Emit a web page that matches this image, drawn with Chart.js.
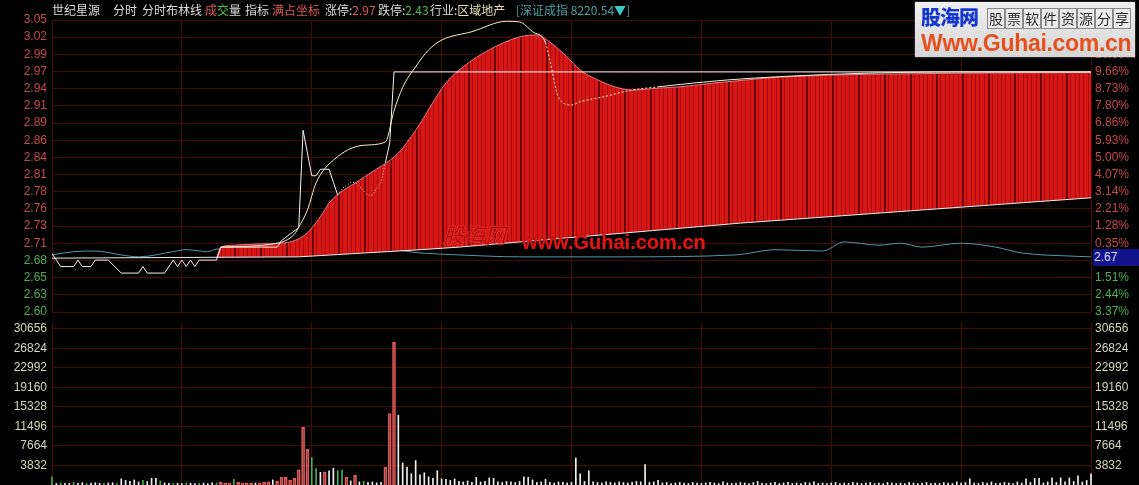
<!DOCTYPE html>
<html lang="zh">
<head>
<meta charset="UTF-8" />
<title>世纪星源 分时布林线</title>
<script src="https://cdn.jsdelivr.net/npm/chart.js"></script>
<style>
  html, body { margin: 0; padding: 0; background: #000; }
  body { width: 1139px; height: 485px; position: relative; overflow: hidden;
         font-family: "Noto Sans CJK SC", sans-serif; }
  canvas { position: absolute; left: 0; }
  #priceChart { top: 0; }
  #volChart { top: 318px; }
  .hd { position: absolute; top: 3px; font-size: 12px; line-height: 14px; color: #dcdcdc; white-space: nowrap; }
  .up { color: #e05858; }
  .dn { color: #4cbf4c; }
  .ind { color: #e4e0b4; }
  .idx { color: #46a4a4; }
  .tri { color: #3cc8c8; }
  #lastBox { position: absolute; left: 1093px; top: 249px; width: 46px; height: 17px; background: #12128c;
             color: #dcdcff; font: 12px "Liberation Sans", Arial, sans-serif; line-height: 17px; padding-left: 1px; }
  #logo { position: absolute; left: 915px; top: 2px; width: 220px; height: 55px;
          background: linear-gradient(#f0f0f0, #d6d6d6); box-shadow: 0 0 2px #777; }
  #logo .cn { position: absolute; left: 6px; top: 4px; font-size: 20px; font-weight: 900; color: #1638d2;
              letter-spacing: -1px; line-height: 22px; }
  #logo .box { position: absolute; top: 6px; width: 16px; height: 19px; border: 1px solid #8a8a8a;
               font-size: 14px; line-height: 19px; text-align: center; color: #2a2a2a; background: #ececec; }
  #logo .url { position: absolute; left: 6px; top: 28px; font: bold 23px "Liberation Sans", Arial, sans-serif;
               color: #e6501c; line-height: 26px; letter-spacing: -0.3px; }
  .wm1 { position: absolute; left: 443px; top: 222px; font-size: 21px; font-style: italic; font-weight: bold;
         color: rgba(150, 0, 0, 0.5); -webkit-text-stroke: 1px #e02828; line-height: 24px; }
  .wm2 { position: absolute; left: 522px; top: 231px; font: bold 20px "Liberation Sans", Arial, sans-serif;
         color: #e01616; text-shadow: 0 0 1px #500; line-height: 23px; }
</style>
</head>
<body>

<canvas id="priceChart" width="1139" height="320"></canvas>
<canvas id="volChart" width="1139" height="167"></canvas>

<div class="hd" style="left:52px">世纪星源</div>
<div class="hd" style="left:113px">分时</div>
<div class="hd" style="left:142px">分时布林线</div>
<div class="hd" style="left:205px"><span class="up">成</span><span class="dn">交</span>量</div>
<div class="hd" style="left:245px">指标</div>
<div class="hd up" style="left:272px">满占坐标</div>
<div class="hd" style="left:325px">涨停:<span class="up">2.97</span></div>
<div class="hd" style="left:378px">跌停:<span class="dn">2.43</span></div>
<div class="hd" style="left:430px">行业:<span class="ind">区域地产</span></div>
<div class="hd idx" style="left:516px">[深证成指 8220.54<span class="tri">▼</span>]</div>

<div id="lastBox">2.67</div>

<div class="wm1">股海网</div>
<div class="wm2">www.Guhai.com.cn</div>

<div id="logo">
  <div class="cn">股海网</div>
  <div class="box" style="left:72px">股</div>
  <div class="box" style="left:90px">票</div>
  <div class="box" style="left:108px">软</div>
  <div class="box" style="left:126px">件</div>
  <div class="box" style="left:144px">资</div>
  <div class="box" style="left:162px">源</div>
  <div class="box" style="left:180px">分</div>
  <div class="box" style="left:198px">享</div>
  <div class="url">Www.Guhai.com.cn</div>
</div>

<script>
  // minutes from the open (0 .. 240)
  const gridMinutes = [0, 30, 60, 90, 120, 150, 180, 210, 240];

  // axis labels, top to bottom
  const priceLabels = ['3.05', '3.02', '2.99', '2.97', '2.94', '2.91', '2.89', '2.86', '2.84',
                       '2.81', '2.78', '2.76', '2.73', '2.71', '2.68', '2.65', '2.63', '2.60'];
  const pctLabels = ['12.45%', '11.52%', '10.59%', '9.66%', '8.73%', '7.80%', '6.86%', '5.93%', '5.00%',
                     '4.07%', '3.14%', '2.21%', '1.28%', '0.35%', '', '1.51%', '2.44%', '3.37%'];
  const volLabels = ['30656', '26824', '22992', '19160', '15328', '11496', '7664', '3832'];

  // price line
  const priceMin = [0, 1, 2, 5, 6, 7, 9, 10, 13, 16, 20, 21, 22, 26, 28, 29, 30, 31, 32, 33, 34, 38,
                    39, 52, 53, 55, 57, 58, 60, 61, 62, 64, 65, 66, 67, 69, 70, 73, 74, 76, 77, 78, 79, 240];
  const priceVal = [2.69, 2.68, 2.67, 2.67, 2.68, 2.67, 2.67, 2.68, 2.68, 2.66, 2.66, 2.67, 2.66, 2.66, 2.68, 2.67,
                    2.68, 2.67, 2.68, 2.67, 2.68, 2.68, 2.70, 2.70, 2.71, 2.72, 2.73, 2.88, 2.81, 2.81, 2.82, 2.82,
                    2.80, 2.78, 2.79, 2.80, 2.80, 2.78, 2.78, 2.80, 2.83, 2.86, 2.97, 2.97];

  // pale upper line
  const bollMin = [39, 52, 56, 57, 59, 61, 65, 72, 77, 79, 81, 84, 87, 90, 97, 105, 108, 111, 114, 115,
                   117, 120, 122, 127, 134, 140, 161, 210, 240];
  const bollVal = [2.700, 2.706, 2.720, 2.731, 2.757, 2.799, 2.834, 2.857, 2.862, 2.910, 2.946, 2.978, 3.004,
                   3.019, 3.032, 3.048, 3.047, 3.032, 3.015, 2.988, 2.931, 2.919, 2.924, 2.931, 2.942, 2.947,
                   2.960, 2.970, 2.970];

  // top edge of the red band
  const upperMin = [38, 39, 42, 48, 53, 56, 59, 63, 64, 71, 74, 80, 84, 91, 95, 101, 108, 112, 115, 119,
                    122, 126, 130, 134, 140, 145, 153, 161, 168, 210, 240];
  const upperVal = [2.683, 2.700, 2.703, 2.705, 2.706, 2.710, 2.722, 2.757, 2.768, 2.803, 2.816, 2.845, 2.880,
                    2.953, 2.978, 3.004, 3.024, 3.027, 3.016, 2.993, 2.973, 2.958, 2.947, 2.942, 2.945, 2.947,
                    2.953, 2.958, 2.962, 2.968, 2.969];

  // lower edge line
  const lowerMin = [0, 57, 85, 94, 159, 240];
  const lowerVal = [2.683, 2.685, 2.696, 2.700, 2.737, 2.776];

  // 深证成指 overlay
  const indexMin = [0, 5, 10, 16, 20, 28, 31, 36, 38, 57, 78, 85, 94, 108, 131, 158, 167, 178, 183, 191,
                    196, 201, 210, 218, 224, 236, 240];
  const indexVal = [2.688, 2.693, 2.694, 2.688, 2.685, 2.693, 2.696, 2.693, 2.697, 2.695, 2.696, 2.691, 2.688,
                    2.685, 2.685, 2.688, 2.696, 2.694, 2.708, 2.703, 2.706, 2.700, 2.706, 2.700, 2.691, 2.686,
                    2.685];

  // volume per minute and bar colour (r up, g down, w flat)
  const volume = [
    1600, 300, 450, 350, 300, 500, 350, 450, 300, 400,
    450, 350, 300, 400, 450, 300, 1200, 900, 700, 1000,
    600, 900, 700, 1300, 1300, 800, 400, 350, 300, 350,
    300, 400, 350, 300, 350, 400, 300, 450, 400, 500,
    450, 400, 1100, 500, 400, 450, 350, 400, 450, 500,
    600, 1000, 700, 1500, 1500, 900, 1300, 3000, 11300, 7000,
    5400, 3200, 2500, 2600, 2800, 3300, 2800, 3000, 1500, 800,
    1900, 600, 700, 500, 600, 400, 500, 3500, 14000, 28000,
    13700, 4300, 3500, 2200, 4800, 2000, 2400, 1600, 1300, 2800,
    1200, 1100, 900, 1200, 700, 600, 800, 500, 1500, 600,
    700, 1400, 1300, 600, 500, 700, 600, 500, 700, 1600,
    1500, 1000, 500, 600, 1100, 500, 400, 600, 500, 400,
    500, 5300, 2200, 700, 2800, 600, 500, 400, 600, 500,
    400, 600, 500, 400, 500, 700, 600, 4000, 500, 600,
    900, 400, 500, 300, 400, 500, 400, 300, 500, 400,
    300, 400, 500, 400, 300, 600, 400, 300, 400, 500,
    400, 300, 500, 700, 400, 300, 400, 500, 300, 400,
    500, 300, 400, 300, 500, 400, 600, 300, 400, 300,
    400, 500, 300, 400, 300, 500, 400, 300, 400, 500,
    300, 400, 300, 500, 400, 300, 400, 300, 500, 400,
    300, 400, 500, 300, 400, 300, 500, 400, 300, 600,
    400, 500, 1200, 400, 300, 500, 400, 600, 300, 400,
    500, 400, 300, 600, 400, 1200, 500, 1300, 1300, 400,
    600, 1400, 500, 1400, 600, 1400, 700, 1800, 600, 900,
    2200
  ];
  const volColor = (
    'gwgwwgwwgw' + 'wwgwwgwwww' + 'wgwwwgwwgw' + 'wgwwgwwwgr' + 'rrgrrrrwrr' +
    'rwrrrrrrrr' + 'ggwrwwggrw' + 'rwgwwwwrrr' + 'wwwwwwwwww' + 'wwwwwwwwww' +
    'wwwwwwwwww' + 'wwwwwwwwww' + 'wwwwwwwwww' + 'wwwwwwwwww' + 'wwwwwwwwww' +
    'wwwwwwwwww' + 'wwwwwwwwww' + 'wwwwwwwwww' + 'wwwwwwwwww' + 'wwwwwwwwww' +
    'wwwwwwwwww' + 'wwwwwwwwww' + 'wwwwwwwwww' + 'wwwwwwwwww' + 'w'
  ).split('');

  const pts = (xs, ys) => xs.map((x, i) => ({ x: x, y: ys[i] }));

  const gridColor = '#4a0909';
  const tickFont = { family: '"Liberation Sans", Arial, sans-serif', size: 12 };
  const redText = '#c84848';
  const greenText = '#4caf4c';

  // red stripes like the minute columns
  function stripes() {
    const c = document.createElement('canvas');
    c.width = 26; c.height = 4;
    const g = c.getContext('2d');
    g.fillStyle = '#d81616';
    g.fillRect(0, 0, 26, 4);
    g.fillStyle = '#a60d0d';
    [4, 9, 13, 17, 22].forEach(x => g.fillRect(x, 0, 1, 4));
    g.fillStyle = '#6a0505';
    g.fillRect(0, 0, 2, 4);
    return g.createPattern(c, 'repeat');
  }

  function xAxis() {
    return {
      type: 'linear', min: 0, max: 240, offset: false,
      ticks: { display: false },
      grid: { color: gridColor, drawTicks: false, offset: false },
      border: { display: false },
      afterBuildTicks: s => { s.ticks = gridMinutes.map(v => ({ value: v })); },
      afterFit: s => { s.height = 0; s.paddingLeft = 0; s.paddingRight = 0; }
    };
  }

  function yAxis(pos, min, max, ticks, labels, colorFn, width, drawGrid) {
    return {
      type: 'linear', position: pos, min: min, max: max,
      afterBuildTicks: s => { s.ticks = ticks.map(v => ({ value: v })); },
      ticks: {
        autoSkip: false, font: tickFont, padding: pos === 'left' ? 5 : 4,
        color: colorFn,
        callback: (v, i) => labels[labels.length - 1 - i]
      },
      grid: { color: gridColor, drawTicks: false, drawOnChartArea: drawGrid },
      border: { display: false },
      afterFit: s => { s.width = width; s.paddingTop = 0; s.paddingBottom = 0; }
    };
  }

  // evenly spaced price rows, bottom to top
  const pMin = 2.60, pMax = 3.05;
  const priceTicks = priceLabels.map((_, i) => pMin + i * (pMax - pMin) / (priceLabels.length - 1));
  const priceColor = ctx => (ctx.index >= 4 ? redText : greenText);

  const dashRange = (a, b, dash) => ctx =>
    (ctx.p0.parsed.x >= a && ctx.p1.parsed.x <= b) ? dash : undefined;

  new Chart(document.getElementById('priceChart'), {
    type: 'line',
    data: {
      datasets: [
        { label: '价格', data: pts(priceMin, priceVal), borderColor: '#f4f4f4',
          segment: { borderDash: dashRange(66, 77, [1, 2]) } },
        { label: '上轨', data: pts(bollMin, bollVal), borderColor: '#f4f2cc',
          cubicInterpolationMode: 'monotone', segment: { borderDash: dashRange(113, 150, [2, 2]) } },
        { label: '下轨', data: pts(lowerMin, lowerVal), borderColor: '#efefef' },
        { label: '布林带', data: pts(upperMin, upperVal), borderColor: '#e27a86',
          backgroundColor: stripes(), fill: '-1', cubicInterpolationMode: 'monotone' },
        { label: '深证成指', data: pts(indexMin, indexVal), borderColor: '#4f9aa6',
          cubicInterpolationMode: 'monotone' }
      ]
    },
    options: {
      responsive: false,
      animation: false,
      devicePixelRatio: 1,
      layout: { padding: { top: 20, bottom: 8, left: 0, right: 0 } },
      elements: { point: { radius: 0 }, line: { borderWidth: 1, tension: 0 } },
      plugins: { legend: { display: false }, tooltip: { enabled: false } },
      scales: {
        x: xAxis(),
        y: yAxis('left', pMin, pMax, priceTicks, priceLabels, priceColor, 52, true),
        yR: yAxis('right', pMin, pMax, priceTicks, pctLabels, priceColor, 48, false)
      }
    }
  });

  const volTicks = volLabels.map(Number).reverse();
  const volText = () => '#d6d6be';
  const volPts = code => volume.map((v, i) => ({ x: i, y: v, c: volColor[i] }))
                               .filter(p => code.includes(p.c));

  new Chart(document.getElementById('volChart'), {
    type: 'bar',
    data: {
      datasets: [
        { label: '成交量', data: volPts('r'), barThickness: 3, borderWidth: 1,
          borderColor: '#e25c5c', backgroundColor: 'rgba(0,0,0,0)', clip: false },
        { label: '成交量', data: volPts('wg'), barThickness: 1, borderWidth: 0, clip: false,
          backgroundColor: ctx => (ctx.raw && ctx.raw.c === 'g' ? '#4cb04c' : '#f0f0f0') }
      ]
    },
    options: {
      responsive: false,
      animation: false,
      devicePixelRatio: 1,
      layout: { padding: { top: 4, bottom: 0, left: 0, right: 0 } },
      datasets: { bar: { grouped: false } },
      plugins: { legend: { display: false }, tooltip: { enabled: false } },
      scales: {
        x: xAxis(),
        y: yAxis('left', 0, 32000, volTicks, volLabels, volText, 52, true),
        yR: yAxis('right', 0, 32000, volTicks, volLabels, volText, 48, false)
      }
    }
  });
</script>

</body>
</html>
